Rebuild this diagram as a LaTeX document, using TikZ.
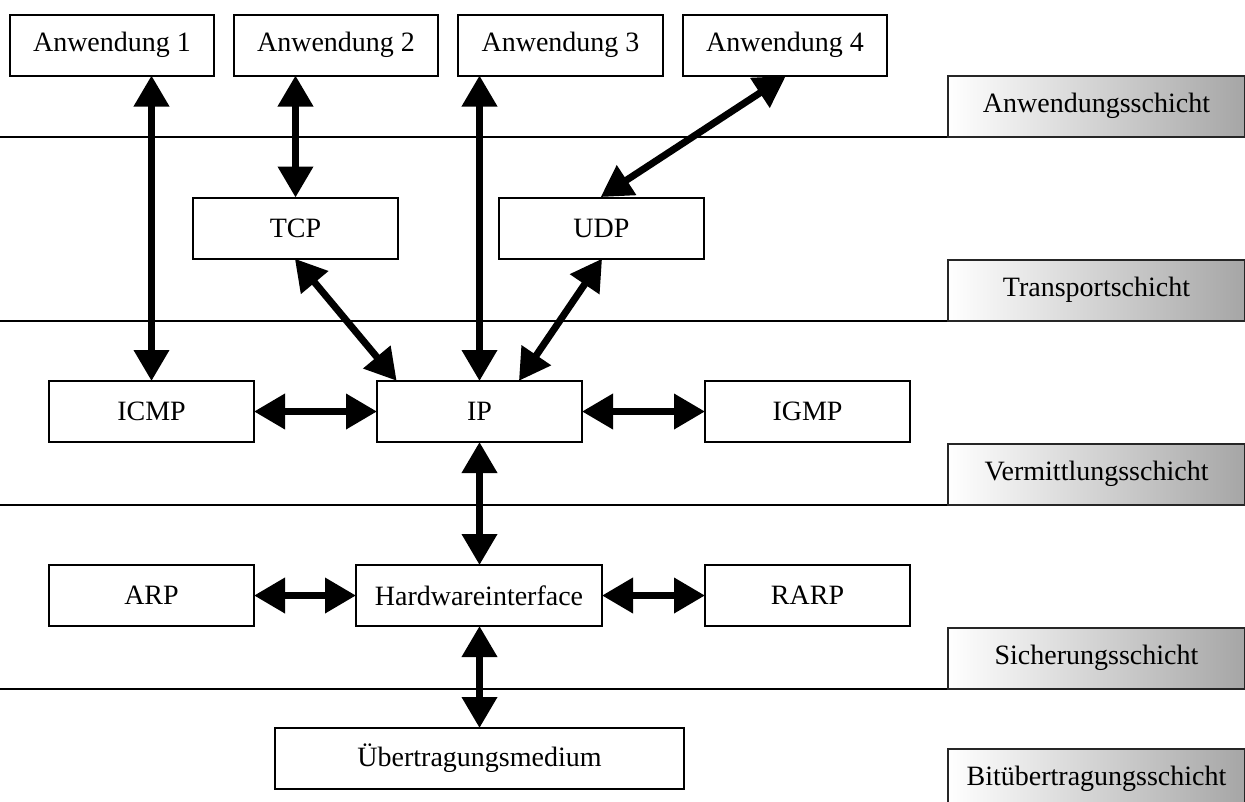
\documentclass[tikz,border=0pt]{standalone}
\usepackage{fontspec}
\setmainfont{Liberation Serif}
\usetikzlibrary{arrows.meta,calc}

\tikzset{
  box/.style={draw=black, line width=2pt, fill=white, inner sep=0pt,
    minimum height=61pt, font=\fontsize{28}{34}\selectfont},
  layerbox/.style={draw=black!85, line width=2pt, inner sep=0pt,
    minimum width=297pt, minimum height=61pt,
    left color=white, middle color=black!8, right color=black!35,
    font=\fontsize{28}{34}\selectfont},
  layerline/.style={line width=2pt},
  dbl/.style={line width=7pt,
    {Triangle[length=31pt,width=34pt]}-{Triangle[length=31pt,width=34pt]},
    shorten <=-1pt, shorten >=-1pt}
}

\begin{document}
\begin{tikzpicture}[x=1pt,y=-1pt]
  \useasboundingbox (0,0) rectangle (1245,801);
  \clip (0,0) rectangle (1245,801);

  % layer separators
  \coordinate (s1) at (0,136.5);
  \coordinate (s2) at (0,320.5);
  \coordinate (s3) at (0,504.5);
  \coordinate (s4) at (0,688.5);

  % layer names on the right
  \node[layerbox] (lAnw) at (1096.5,106) {Anwendungsschicht};
  \node[layerbox] (lTra) at (1096.5,290) {Transportschicht};
  \node[layerbox] (lVer) at (1096.5,474) {Vermittlungsschicht};
  \node[layerbox] (lSic) at (1096.5,658) {Sicherungsschicht};
  \node[layerbox] (lBit) at (1096.5,779) {Bitübertragungsschicht};

  \draw[layerline] (s1) -- (s1 -| lAnw.west);
  \draw[layerline] (s2) -- (s2 -| lTra.west);
  \draw[layerline] (s3) -- (s3 -| lVer.west);
  \draw[layerline] (s4) -- (s4 -| lSic.west);

  % applications
  \node[box, minimum width=204pt] (a1) at (112,45) {Anwendung 1};
  \node[box, minimum width=204pt] (a2) at (336,45) {Anwendung 2};
  \node[box, minimum width=205pt] (a3) at (560.5,45) {Anwendung 3};
  \node[box, minimum width=204pt] (a4) at (785,45) {Anwendung 4};

  % transport
  \node[box, minimum width=205pt] (tcp) at (295.5,228) {TCP};
  \node[box, minimum width=205pt] (udp) at (601.5,228) {UDP};

  % network
  \node[box, minimum width=205pt] (icmp) at (151.5,411.5) {ICMP};
  \node[box, minimum width=205pt] (ip) at (479.5,411.5) {IP};
  \node[box, minimum width=205pt] (igmp) at (807.5,411.5) {IGMP};

  % data link
  \node[box, minimum width=205pt] (arp) at (151.5,595.5) {ARP};
  \node[box, minimum width=246pt] (hw) at (479,595.5) {Hardwareinterface};
  \node[box, minimum width=205pt] (rarp) at (807.5,595.5) {RARP};

  % physical
  \node[box, minimum width=409pt] (med) at (479.5,758.5) {Übertragungsmedium};

  % connections
  \draw[dbl] (a1.south -| icmp.north) -- (icmp.north);
  \draw[dbl] (a2.south -| tcp.north) -- (tcp.north);
  \draw[dbl] (a3.south -| ip.north) -- (ip.north);
  \draw[dbl] (a4.south) -- (udp.north);
  \draw[dbl] (tcp.south) -- ($(ip.north west)+(20,0)$);
  \draw[dbl] (udp.south) -- ($(ip.north)+(40,0)$);
  \draw[dbl] (icmp.east) -- (ip.west);
  \draw[dbl] (ip.east) -- (igmp.west);
  \draw[dbl] (ip.south) -- (ip.south |- hw.north);
  \draw[dbl] (arp.east) -- (hw.west);
  \draw[dbl] (hw.east) -- (rarp.west);
  \draw[dbl] (hw.south -| med.north) -- (med.north);
\end{tikzpicture}
\end{document}
